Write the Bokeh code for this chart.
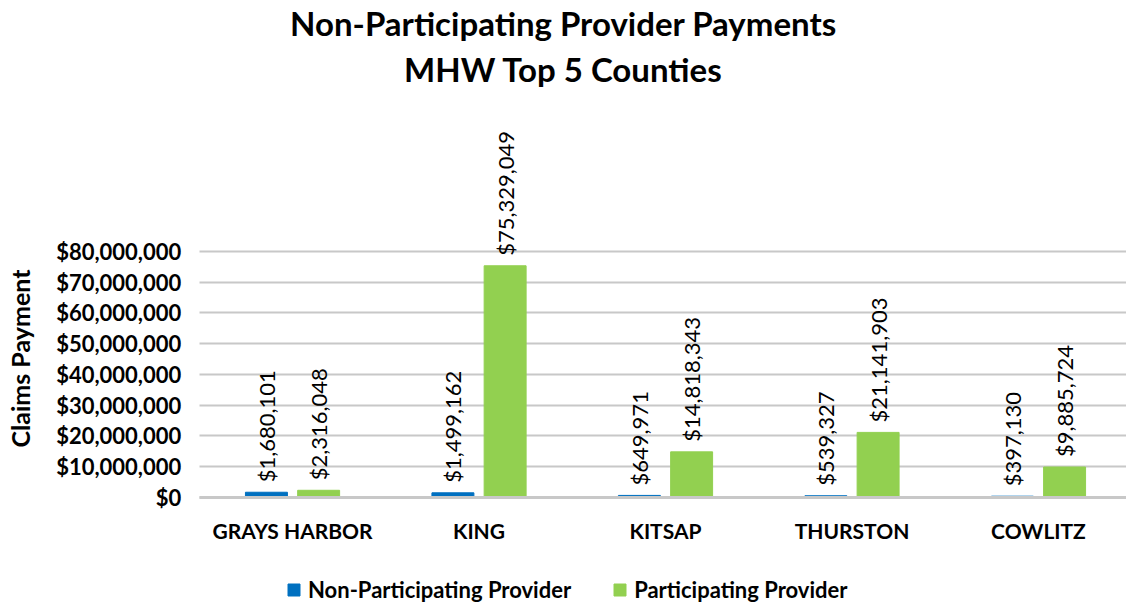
import numpy as np
from math import pi
from bokeh.plotting import figure
from bokeh.models import (ColumnDataSource, Range1d, FixedTicker, NumeralTickFormatter,
                          LabelSet, Label, Legend, LegendItem)
from bokeh.core.properties import value
from bokeh.embed import file_html
from bokeh.resources import INLINE

categories = ["GRAYS HARBOR", "KING", "KITSAP", "THURSTON", "COWLITZ"]
non_participating = [1680101, 1499162, 649971, 539327, 397130]
participating = [2316048, 75329049, 14818343, 21141903, 9885724]
y_ticks = [0, 10000000, 20000000, 30000000, 40000000, 50000000, 60000000, 70000000, 80000000]

FONT = "Lato"
BLUE = "#0070C0"
GREEN = "#92D050"
GRID = "#C8C8C8"

idx = np.arange(len(categories)) + 0.5
off = 0.14
src_np = ColumnDataSource(dict(x=idx - off, y=non_participating,
                               t=[f"${v:,}" for v in non_participating]))
src_p = ColumnDataSource(dict(x=idx + off, y=participating,
                              t=[f"${v:,}" for v in participating]))

W, H = 1126, 603
X_END = 4.972
p = figure(width=W, height=H, output_backend="svg", toolbar_location=None,
           x_range=Range1d(-1.066, X_END), y_range=Range1d(-34.5e6, 161.6e6),
           min_border=0)
p.outline_line_color = None
p.background_fill_color = "white"
p.border_fill_color = "white"

# grid (drawn only over the plotting area, x >= 0)
p.xgrid.grid_line_color = None
g = p.ygrid[0]
g.ticker = FixedTicker(ticks=y_ticks)
if "cross_bounds" in g.properties():
    g.cross_bounds = (0, X_END)
    g.grid_line_color = GRID
    g.grid_line_width = 2
else:
    g.grid_line_color = None
    p.segment(x0=0, x1=X_END, y0=y_ticks, y1=y_ticks, line_color=GRID, line_width=2)

r1 = p.vbar(x="x", top="y", width=0.225, source=src_np, color=BLUE)
r2 = p.vbar(x="x", top="y", width=0.225, source=src_p, color=GREEN)

for s in (src_np, src_p):
    p.add_layout(LabelSet(x="x", y="y", text="t", source=s, angle=pi / 2,
                          x_offset=0, y_offset=10, text_align="left", text_baseline="middle",
                          text_font=value(FONT), text_font_size="22px", text_color="black"))

# axes drawn inside the canvas at fixed data locations
p.xaxis.fixed_location = 0
p.xaxis.bounds = (0, X_END)
p.xaxis.ticker = FixedTicker(ticks=list(idx))
p.xaxis.major_label_overrides = {float(i): c for i, c in zip(idx, categories)}
p.xaxis.major_label_text_font = FONT
p.xaxis.major_label_text_font_size = "21px"
p.xaxis.major_label_text_font_style = "bold"
p.xaxis.major_label_text_color = "black"
p.xaxis.major_label_standoff = 21
p.xaxis.axis_line_color = GRID
p.xaxis.axis_line_width = 3
p.xaxis.major_tick_line_color = None
p.xaxis.major_tick_out = 0
p.xaxis.major_tick_in = 0
p.xaxis.minor_tick_line_color = None

p.yaxis.fixed_location = 0
p.yaxis.ticker = FixedTicker(ticks=y_ticks)
p.yaxis.formatter = NumeralTickFormatter(format="$0,0")
p.yaxis.major_label_text_font = FONT
p.yaxis.major_label_text_font_size = "22px"
p.yaxis.major_label_text_font_style = "bold"
p.yaxis.major_label_text_color = "black"
p.yaxis.major_label_standoff = 18
p.yaxis.axis_line_color = None
p.yaxis.major_tick_line_color = None
p.yaxis.major_tick_out = 0
p.yaxis.major_tick_in = 0
p.yaxis.minor_tick_line_color = None

# y-axis title
p.add_layout(Label(x=19, y=H - 358, x_units="screen", y_units="screen", text="Claims Payment",
                   angle=pi / 2, text_align="center", text_baseline="middle", text_font=FONT,
                   text_font_size="25px", text_font_style="bold", text_color="black"))

# chart titles
for txt, yy in (("Non-Participating Provider Payments", 22), ("MHW Top 5 Counties", 68)):
    p.add_layout(Label(x=563, y=H - yy, x_units="screen", y_units="screen", text=txt,
                       text_align="center", text_baseline="middle", text_font=FONT,
                       text_font_size="33px", text_font_style="bold", text_color="black"))

legend = Legend(items=[LegendItem(label="Non-Participating Provider", renderers=[r1]),
                       LegendItem(label="Participating Provider", renderers=[r2])],
                orientation="horizontal", location=(286, 0),
                label_text_font=FONT, label_text_font_size="22px", label_text_font_style="bold",
                label_text_color="black", glyph_width=15, glyph_height=15,
                label_standoff=7, spacing=41, border_line_color=None,
                background_fill_alpha=0, padding=0, margin=0)
p.add_layout(legend, "center")

open("out.html", "w").write(file_html(p, INLINE))
